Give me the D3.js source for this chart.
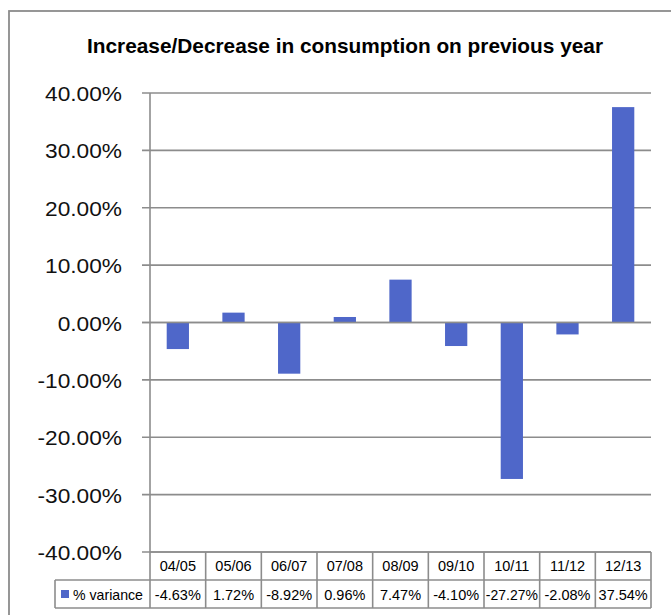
<!DOCTYPE html>
<html><head><meta charset="utf-8">
<script src="https://cdn.jsdelivr.net/npm/d3@7"></script>
<style>body{margin:0;background:#fff}svg{display:block}</style>
</head><body>
<script>
const categories = ["04/05","05/06","06/07","07/08","08/09","09/10","10/11","11/12","12/13"];
const values = [-0.0463,0.0172,-0.0892,0.0096,0.0747,-0.0410,-0.2727,-0.0208,0.3754];
const valueLabels = ["-4.63%","1.72%","-8.92%","0.96%","7.47%","-4.10%","-27.27%","-2.08%","37.54%"];
const yTicks = [-0.4,-0.3,-0.2,-0.1,0,0.1,0.2,0.3,0.4];
const seriesName = "% variance";
const title = "Increase/Decrease in consumption on previous year";

const W=671,H=615;
const svg=d3.select("body").append("svg").attr("width",W).attr("height",H);
const font="'Liberation Sans', Arial, sans-serif";
const grid="#8c8c8c", barColor="#4f67c9";

// outer border
svg.append("rect").attr("x",9).attr("y",11).attr("width",W+10).attr("height",H+10)
  .attr("fill","none").attr("stroke",grid).attr("stroke-width",1.8);

svg.append("text").attr("x",87).attr("y",53)
  .attr("font-family",font).attr("font-weight","bold").attr("font-size",20.5)
  .attr("textLength",516).attr("lengthAdjust","spacingAndGlyphs")
  .text(title);

const x=d3.scaleBand().domain(categories).range([150,651]).padding(0);
const y=d3.scaleLinear().domain([-0.4,0.4]).range([552,93]);
const locale=d3.formatLocale({decimal:".",thousands:",",grouping:[3],currency:["",""],minus:"-"});
const f2=locale.format(".2f");
const fmt=d=>f2(d*100)+"%";

// gridlines
svg.append("g").selectAll("line").data(yTicks).join("line")
  .attr("x1",142).attr("x2",651).attr("y1",d=>y(d)).attr("y2",d=>y(d))
  .attr("stroke",grid).attr("stroke-width",1.6);

// y labels
svg.append("g").selectAll("text").data(yTicks).join("text")
  .attr("x",122).attr("y",d=>y(d)+8).attr("text-anchor","end")
  .attr("font-family",font).attr("font-size",21).attr("fill","#111")
  .text(fmt)
  .attr("textLength",function(){return this.getComputedTextLength()*1.08;})
  .attr("lengthAdjust","spacingAndGlyphs");

// bars
const bw=x.bandwidth()/2.5;
svg.append("g").selectAll("rect").data(values).join("rect")
  .attr("x",(d,i)=>x(categories[i])+x.bandwidth()/2-bw/2)
  .attr("width",bw)
  .attr("y",d=>Math.min(y(d),y(0)))
  .attr("height",d=>Math.abs(y(d)-y(0)))
  .attr("fill",barColor);

// zero line on top
svg.append("line").attr("x1",142).attr("x2",651).attr("y1",y(0)).attr("y2",y(0))
  .attr("stroke",grid).attr("stroke-width",1.6);

// table
const rowTop=552,rowMid=580,rowBot=608;
const tg=svg.append("g").attr("stroke",grid).attr("stroke-width",1.6);
tg.append("line").attr("x1",150).attr("x2",651).attr("y1",rowTop).attr("y2",rowTop);
tg.append("line").attr("x1",55).attr("x2",651).attr("y1",rowMid).attr("y2",rowMid);
tg.append("line").attr("x1",55).attr("x2",651).attr("y1",rowBot).attr("y2",rowBot);
tg.append("line").attr("x1",55).attr("x2",55).attr("y1",rowMid).attr("y2",rowBot);
tg.selectAll("line.col").data(categories).join("line").attr("class","col")
  .attr("x1",d=>x(d)+x.bandwidth()).attr("x2",d=>x(d)+x.bandwidth())
  .attr("y1",rowTop).attr("y2",rowBot);
// y axis line
svg.append("line").attr("x1",150).attr("x2",150).attr("y1",93).attr("y2",rowBot)
  .attr("stroke",grid).attr("stroke-width",1.6);

svg.append("g").selectAll("text").data(categories).join("text")
  .attr("x",d=>x(d)+x.bandwidth()/2).attr("y",571).attr("text-anchor","middle")
  .attr("font-family",font).attr("font-size",14.5).text(d=>d);
svg.append("g").selectAll("text").data(valueLabels).join("text")
  .attr("x",(d,i)=>x(categories[i])+x.bandwidth()/2).attr("y",600).attr("text-anchor","middle")
  .attr("font-family",font).attr("font-size",14.5)
  .text(d=>d)
  .attr("textLength",function(){const l=this.getComputedTextLength();return l>52?52:null;})
  .attr("lengthAdjust","spacingAndGlyphs");

svg.append("rect").attr("x",61).attr("y",590).attr("width",8).attr("height",8).attr("fill",barColor);
svg.append("text").attr("x",73).attr("y",600).attr("font-family",font).attr("font-size",14.5)
  .text(seriesName)
  .attr("textLength",70).attr("lengthAdjust","spacingAndGlyphs");
</script>
</body></html>
